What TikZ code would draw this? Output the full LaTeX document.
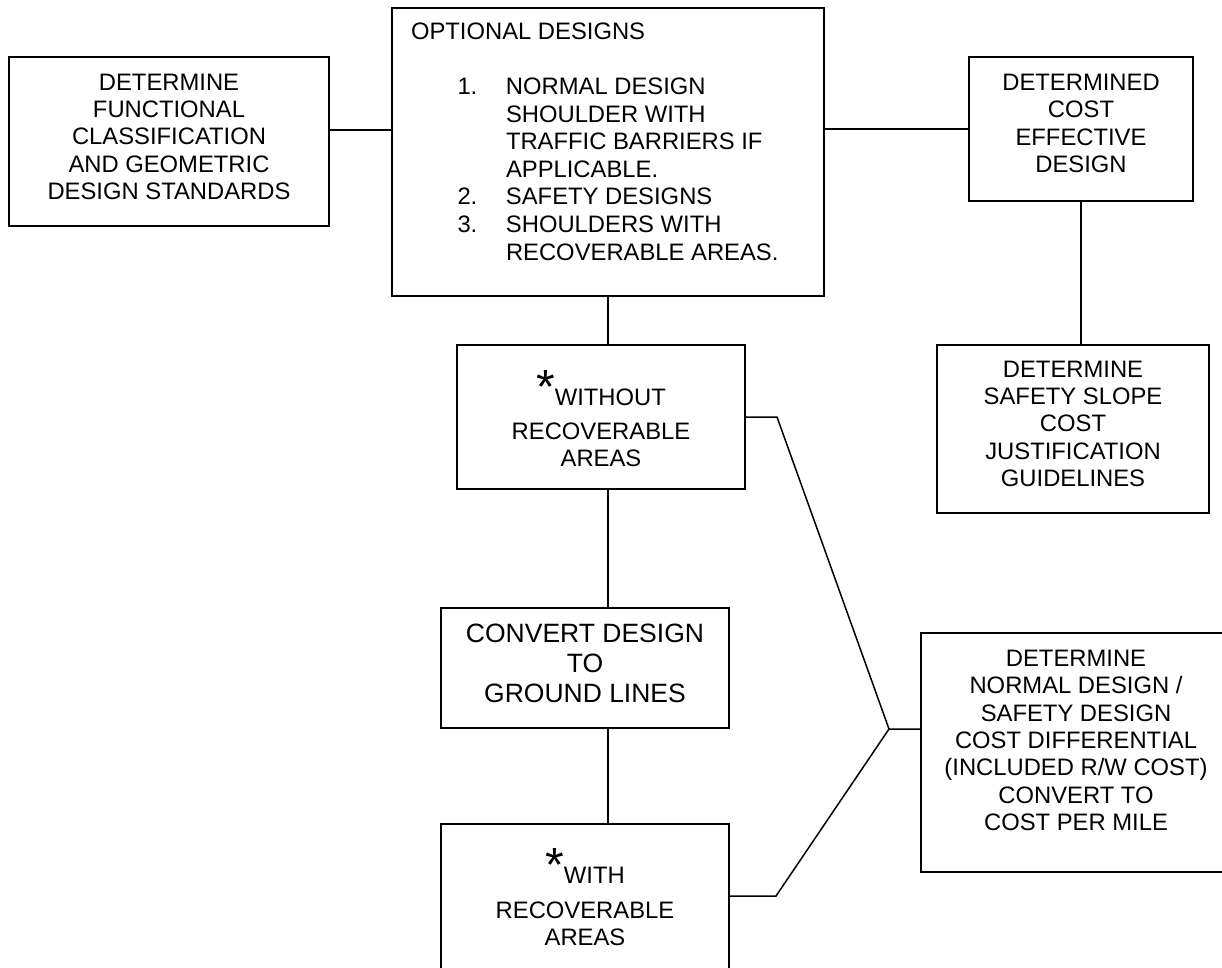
\documentclass[tikz,border=0pt]{standalone}
\usepackage{fontspec}
\setmainfont{Liberation Sans}
\newcommand\bigast{\raisebox{2pt}{\fontsize{48}{48}\selectfont *}}
\begin{document}
\begin{tikzpicture}[x=1pt,y=-1pt,
  box/.style={draw,line width=1.8pt,inner sep=0pt,outer sep=0pt},
  link/.style={draw,line width=1.5pt},
  txt/.style={inner sep=0pt,outer sep=0pt,align=center,font=\fontsize{23.8}{27.4}\selectfont},
  bigtxt/.style={inner sep=0pt,outer sep=0pt,align=center,font=\fontsize{26.5}{30}\selectfont}]
\useasboundingbox (0,0) rectangle (1222,967);
% boxes
\node[box,minimum width=320pt,minimum height=169pt] (A) at (169,141.5) {};
\node[box,minimum width=432pt,minimum height=288pt] (B) at (608,152) {};
\node[box,minimum width=224pt,minimum height=144pt] (C) at (1081,129) {};
\node[box,minimum width=272pt,minimum height=168pt] (D) at (1073,429) {};
\node[box,minimum width=288pt,minimum height=144pt] (E) at (601,417) {};
\node[box,minimum width=288pt,minimum height=120pt] (F) at (585,668) {};
\node[box,minimum width=288pt,minimum height=200pt] (G) at (585,924) {};
\node[box,minimum width=311pt,minimum height=239pt] (H) at (1076.5,752.5) {};
% texts
\node[txt,anchor=south] (tA) at (169,200) {DETERMINE\\FUNCTIONAL\\CLASSIFICATION\\AND GEOMETRIC\\DESIGN STANDARDS};
\node[txt,align=left,anchor=north west,font=\fontsize{23.8}{27.6}\selectfont] (tB) at (411,22.6) {OPTIONAL DESIGNS\\[27.6pt]
\hspace*{46.5pt}\makebox[48.5pt][l]{1.}NORMAL DESIGN\\
\hspace*{95pt}SHOULDER WITH\\
\hspace*{95pt}TRAFFIC BARRIERS IF\\
\hspace*{95pt}APPLICABLE.\\
\hspace*{46.5pt}\makebox[48.5pt][l]{2.}SAFETY DESIGNS\\
\hspace*{46.5pt}\makebox[48.5pt][l]{3.}SHOULDERS WITH\\
\hspace*{95pt}RECOVERABLE AREAS.};
\node[txt,anchor=south] (tC) at (1081,173) {DETERMINED\\COST\\EFFECTIVE\\DESIGN};
\node[txt,anchor=south] (tD) at (1073,487) {DETERMINE\\SAFETY SLOPE\\COST\\JUSTIFICATION\\GUIDELINES};
\node[txt,anchor=south] (tE) at (601,467) {\bigast WITHOUT\\[6.6pt]RECOVERABLE\\AREAS};
\node[bigtxt,anchor=south] (tF) at (585,703) {CONVERT DESIGN\\TO\\GROUND LINES};
\node[txt,anchor=south] (tG) at (585,946) {\bigast WITH\\[7.6pt]RECOVERABLE\\AREAS};
\node[txt,anchor=south] (tH) at (1076,831) {DETERMINE\\NORMAL DESIGN /\\SAFETY DESIGN\\COST DIFFERENTIAL\\(INCLUDED R/W COST)\\CONVERT TO\\COST PER MILE};
% connector points
\coordinate (yab) at (0,130);
\coordinate (j1) at (777,417);
\coordinate (j2) at (889,729);
\coordinate (j3) at (776,896);
% connectors
\draw[link] (A.east |- yab) -- (B.west |- yab);
\draw[link] (B.east |- C.west) -- (C.west);
\draw[link] (C.south) -- (C.south |- D.north);
\draw[link] (B.south) -- (B.south |- E.north);
\draw[link] (B.south |- E.south) -- (B.south |- F.north);
\draw[link] (B.south |- F.south) -- (B.south |- G.north);
\draw[link] (E.east |- j1) -- (j1) -- (j2) -- (H.west |- j2);
\draw[link] (G.east |- j3) -- (j3) -- (j2);
\end{tikzpicture}
\end{document}
